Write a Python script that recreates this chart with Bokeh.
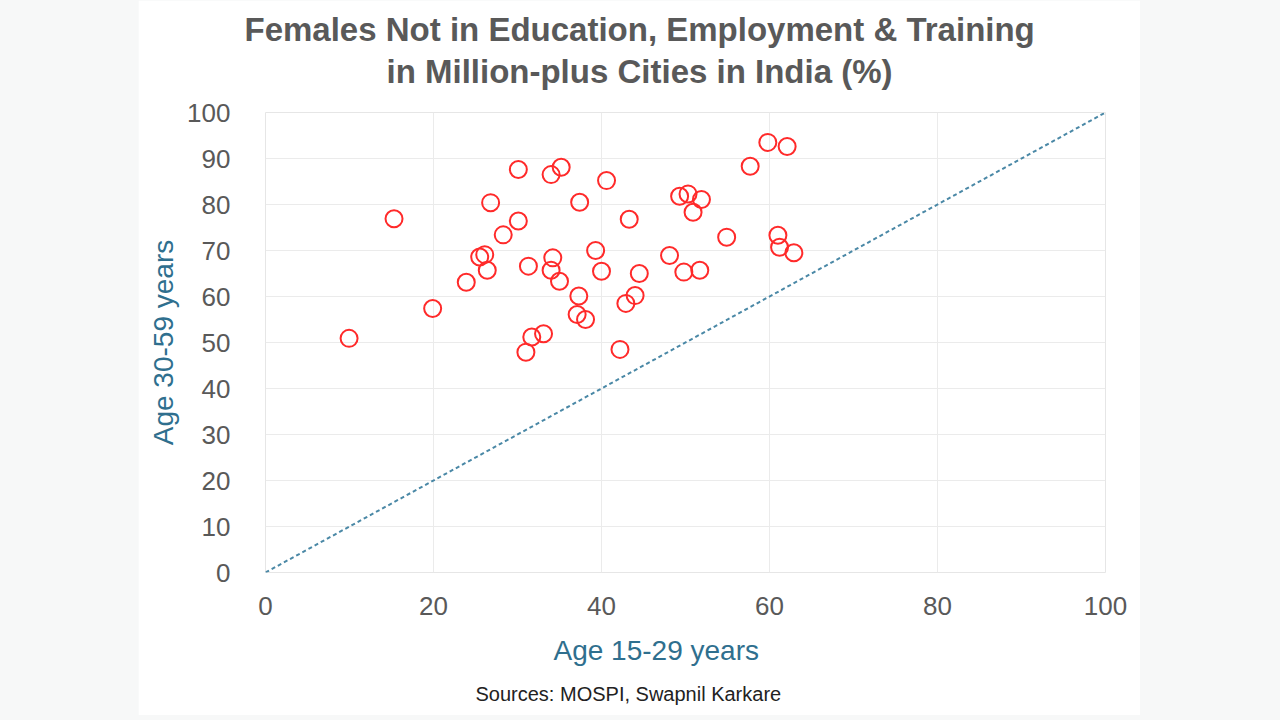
from bokeh.plotting import figure
from bokeh.models import Title, FixedTicker, Range1d, Spacer
from bokeh.layouts import row
from bokeh.embed import file_html
from bokeh.resources import INLINE

# Data: % females NEET, by city
age_15_29 = [9.95, 15.3, 19.9, 23.9, 25.5, 26.1, 26.4, 26.8, 28.3, 30.1,
             30.1, 31.3, 31.0, 31.7, 33.1, 34.0, 35.2, 34.2, 34.0, 35.0,
             37.4, 37.3, 37.1, 38.1, 39.3, 40.0, 40.6, 42.2, 43.3, 42.9,
             44.0, 44.5, 48.1, 49.3, 50.3, 49.8, 50.9, 51.9, 51.7, 54.9,
             57.7, 59.8, 62.1, 61.0, 61.2, 62.9]
age_30_59 = [50.9, 76.9, 57.4, 63.1, 68.6, 69.1, 65.7, 80.4, 73.4, 87.6,
             76.4, 66.6, 47.9, 51.2, 51.9, 86.5, 88.1, 68.4, 65.7, 63.3,
             80.5, 60.1, 56.1, 55.0, 70.0, 65.5, 85.2, 48.5, 76.8, 58.5,
             60.2, 65.0, 68.9, 81.8, 82.3, 65.3, 78.3, 81.1, 65.7, 72.9,
             88.3, 93.5, 92.6, 73.3, 70.7, 69.5]
parity_x = [0, 100]
parity_y = [0, 100]
x_ticks = [0, 20, 40, 60, 80, 100]
y_ticks = [0, 10, 20, 30, 40, 50, 60, 70, 80, 90, 100]

title_line1 = "Females Not in Education, Employment & Training"
title_line2 = "in Million-plus Cities in India (%)"
x_title = "Age 15-29 years"
y_title = "Age 30-59 years"
source_text = "Sources: MOSPI, Swapnil Karkare"

FONT = "Liberation Sans"
W, H = 1002, 715

p = figure(width=W, height=H, output_backend="svg", toolbar_location=None,
           x_range=Range1d(0, 100), y_range=Range1d(0, 100),
           min_border_left=127, min_border_right=35,
           min_border_top=112, min_border_bottom=143)
p.background_fill_color = "white"
p.border_fill_color = "white"
p.outline_line_color = "#e6e6e6"

p.xaxis.ticker = FixedTicker(ticks=x_ticks)
p.yaxis.ticker = FixedTicker(ticks=y_ticks)
for ax in (p.xaxis[0], p.yaxis[0]):
    ax.axis_line_color = None
    ax.major_tick_line_color = None
    ax.minor_tick_line_color = None
    ax.major_label_text_font = FONT
    ax.major_label_text_font_size = "26px"
    ax.major_label_text_color = "#595959"
p.xaxis.major_label_standoff = 18
p.yaxis.major_label_standoff = 29
p.xgrid.grid_line_color = "#ebebeb"
p.ygrid.grid_line_color = "#ebebeb"

p.line(parity_x, parity_y, line_color="#4a88a6", line_width=2, line_dash="4 3")
p.scatter(age_15_29, age_30_59, marker="circle", size=17, fill_color=None,
          line_color="#ff2a2a", line_width=2)

def ttl(text, size, color, offset, standoff, bold=False, align="left", valign="bottom"):
    return Title(text=text, align=align, offset=offset, standoff=standoff,
                 vertical_align=valign,
                 text_font=FONT, text_font_size=size, text_color=color,
                 text_font_style="bold" if bold else "normal")

# above: first added sits nearest the frame (a thin blank one acts as a gap)
p.add_layout(ttl(" ", "2px", "white", 0, 18), "above")
p.add_layout(ttl(title_line2, "33px", "#595959", 121, 2, bold=True), "above")
p.add_layout(ttl(title_line1, "33px", "#595959", -21, 4, bold=True), "above")
# below: after the x axis
p.add_layout(ttl(x_title, "28px", "#2f6f8e", 288, 30), "below")
p.add_layout(ttl(source_text, "20px", "#222222", 210, 0), "below")
# left: after the y axis
p.add_layout(ttl(y_title, "28px", "#2f6f8e", 0, 11, align="center"), "left")

left = Spacer(width=138, height=720, styles={"background-color": "#f7f8f8"})
right = Spacer(width=140, height=720, styles={"background-color": "#f7f8f8"})
layout = row(left, p, right, styles={"background-color": "#f7f8f8"})

open("out.html", "w").write(file_html(layout, INLINE))
